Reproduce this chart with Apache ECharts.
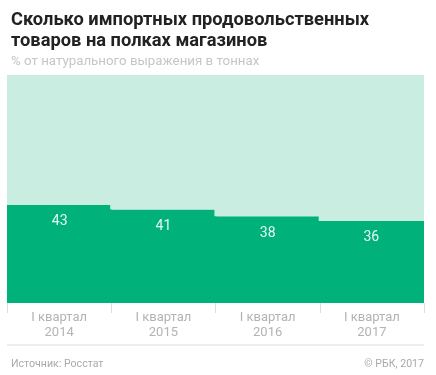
<!DOCTYPE html>
<html><head><meta charset="utf-8">
<script src="https://cdn.jsdelivr.net/npm/echarts@6/dist/echarts.min.js"></script>
<style>html,body{margin:0;padding:0;background:#fff}#c{width:436px;height:375px}</style>
</head><body><div id="c"></div>
<script>
const categories = ['I квартал\n2014', 'I квартал\n2015', 'I квартал\n2016', 'I квартал\n2017'];
const importShare = [43, 41, 38, 36];
const restShare = [57, 59, 62, 64];
const chart = echarts.init(document.getElementById('c'));
chart.setOption({
  animation: false,
  title: [
    {text: 'Сколько импортных продовольственных\nтоваров на полках магазинов', left: 6, top: 5,
     textStyle: {fontFamily: 'Roboto', fontWeight: 'bold', fontSize: 18.3, lineHeight: 21, color: '#222'}},
    {text: '% от натурального выражения в тоннах', left: 6, top: 50,
     textStyle: {fontFamily: 'Roboto', fontWeight: 'normal', fontSize: 13.3, color: '#c6c6c6'}},
    {text: 'Источник: Росстат', left: 6, top: 354,
     textStyle: {fontFamily: 'Roboto', fontWeight: 'normal', fontSize: 10.6, color: '#aaa'}},
    {text: '© РБК, 2017', right: 7, top: 354,
     textStyle: {fontFamily: 'Roboto', fontWeight: 'normal', fontSize: 10.6, color: '#aaa'}}
  ],
  graphic: [{type: 'line', shape: {x1: 7, y1: 345, x2: 424, y2: 345}, style: {stroke: '#ddd', lineWidth: 1}}],
  grid: {left: 7, right: 12, top: 75, bottom: 72},
  xAxis: {type: 'category', data: categories, offset: 5,
    axisLine: {show: false},
    splitLine: {show: false},
    axisTick: {show: true, length: 10, lineStyle: {color: '#ddd'}},
    axisLabel: {margin: 2, color: '#b3b3b3', fontFamily: 'Roboto', fontSize: 13, lineHeight: 15}},
  yAxis: {type: 'value', min: 0, max: 100, show: false, splitLine: {show: false}},
  series: [
    {type: 'bar', stack: 's', data: importShare, barWidth: '102%', z: 2,
     itemStyle: {color: '#00b27a'},
     label: {show: true, position: 'insideTop', distance: 10, color: '#e6f7ef', fontFamily: 'Roboto', fontSize: 14}},
    {type: 'bar', stack: 's', data: restShare, barWidth: '102%', z: 2,
     itemStyle: {color: '#c9eee1'}}
  ]
});
</script></body></html>
